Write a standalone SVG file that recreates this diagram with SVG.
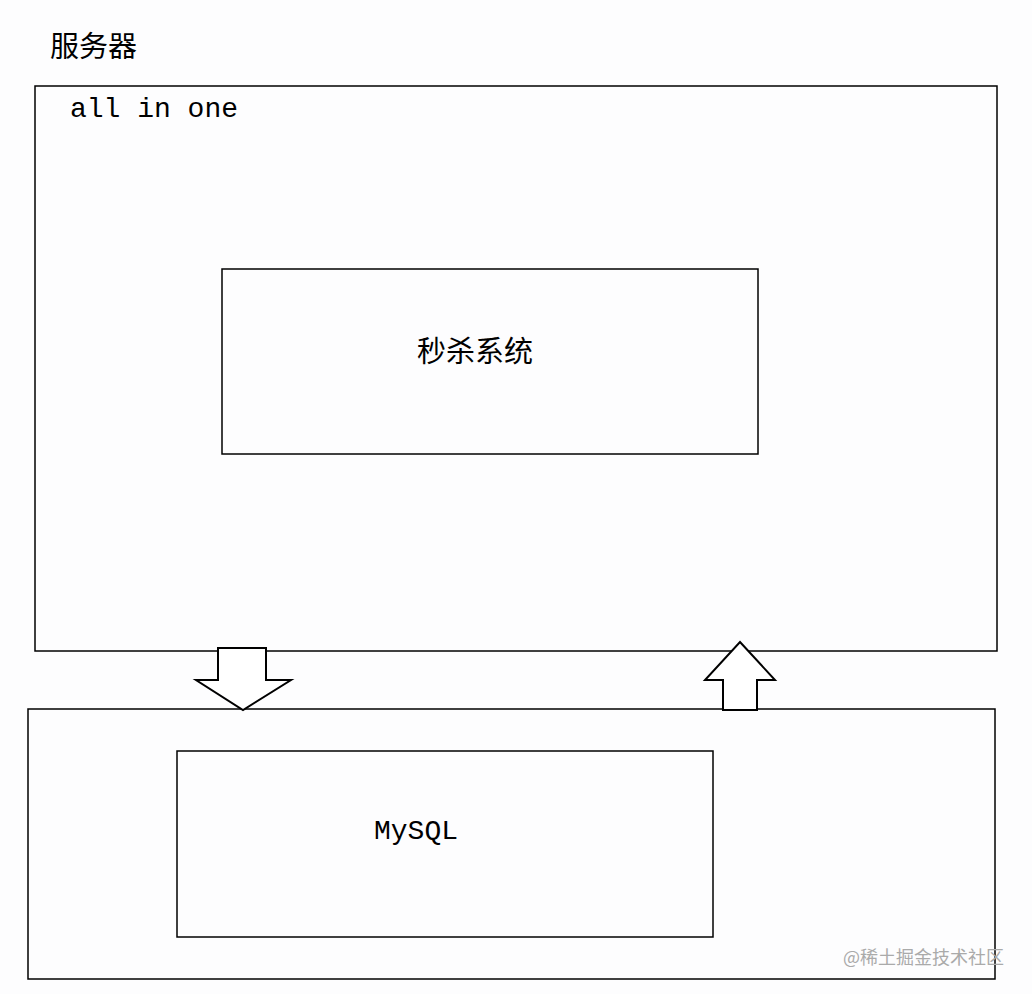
<svg xmlns="http://www.w3.org/2000/svg" width="1032" height="994" viewBox="0 0 1032 994">
<style>
.b{fill:none;stroke:#000;stroke-width:1.5}
.a{fill:#fff;stroke:#000;stroke-width:2}
.t{font-family:"Noto Sans CJK SC",sans-serif;fill:#000}
.m{font-family:"Liberation Mono",monospace;fill:#000}
</style>
<rect width="1032" height="994" fill="#fdfdfe"/>
<text class="t" x="50" y="57" font-size="29">服务器</text>
<g id="server"><rect class="b" x="35" y="86" width="962" height="565"/><text class="m" x="70" y="117" font-size="28">all in one</text></g>
<g id="seckill"><rect class="b" x="222" y="269" width="536" height="185"/><text class="t" x="475" y="362" font-size="29" text-anchor="middle">秒杀系统</text></g>
<g id="db"><rect class="b" x="28" y="709" width="967" height="270"/></g>
<g id="mysql"><rect class="b" x="177" y="751" width="536" height="186"/><text class="m" x="416" y="839" font-size="28" text-anchor="middle">MySQL</text></g>
<g id="connectors">
<polygon class="a" points="218,648 266,648 266,680 291,680 243,710 196,680 218,680"/>
<polygon class="a" points="740,642 775,680 757,680 757,710 723,710 723,680 705,680"/>
</g>
<text class="t" x="1004" y="964" font-size="18" fill="#aaa" style="fill:#aaa" text-anchor="end">@稀土掘金技术社区</text>
</svg>
